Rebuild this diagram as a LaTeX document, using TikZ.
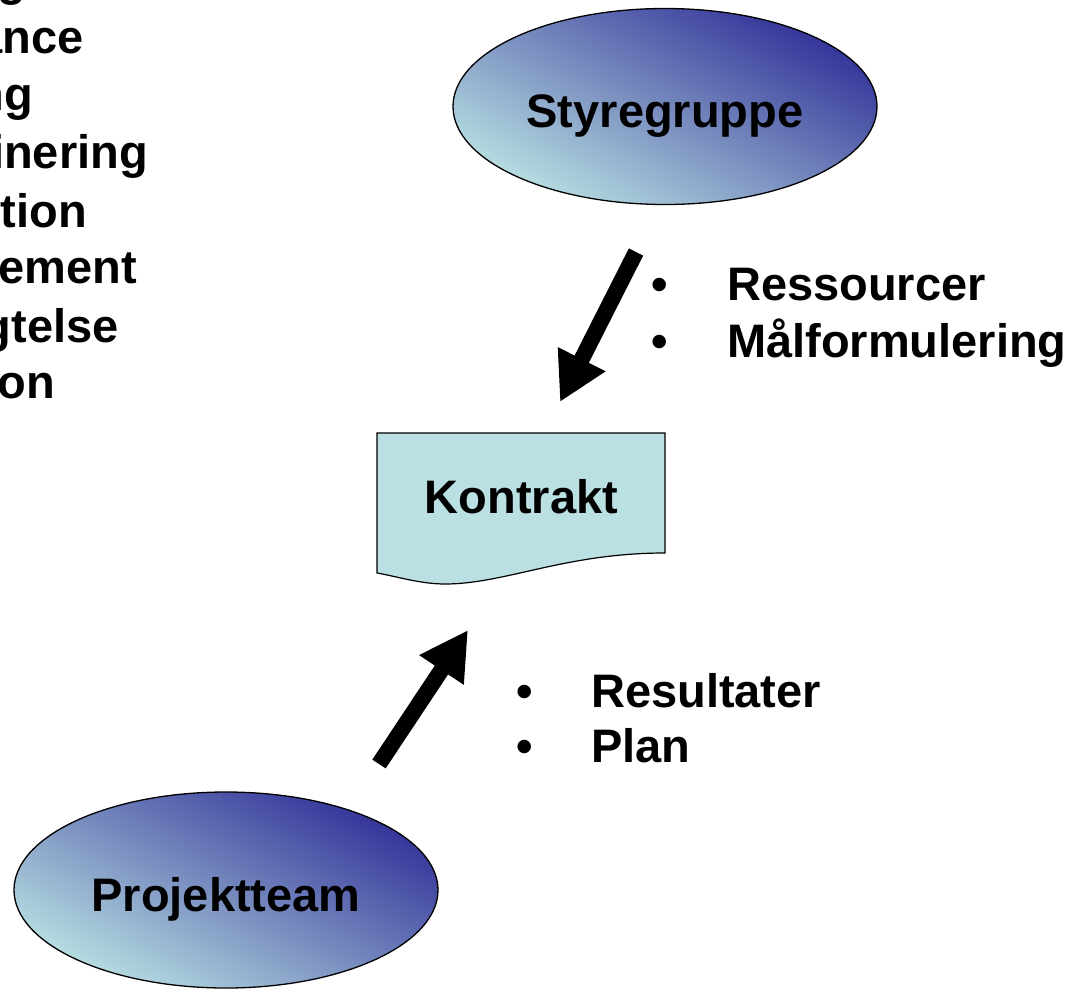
\documentclass[tikz,border=0pt]{standalone}
\usepackage{fontspec}
\setmainfont{Liberation Sans}
\usetikzlibrary{shapes.geometric,arrows.meta}
\definecolor{darkblue}{HTML}{333399}
\definecolor{lightcyan}{HTML}{B8DFE2}
\definecolor{docfill}{HTML}{BBE0E3}
\begin{document}
\begin{tikzpicture}[x=1pt,y=-1pt,
  txt/.style={inner sep=0pt, font=\fontsize{47}{56}\selectfont\bfseries},
  blob/.style={ellipse, draw=black, line width=1.3pt, inner sep=0pt,
    minimum width=424pt, minimum height=196pt,
    shading=axis, bottom color=lightcyan, top color=darkblue, shading angle=-28,
    font=\fontsize{47}{56}\selectfont\bfseries},
  bigarrow/.style={line width=16pt, -{Triangle[length=48pt,width=50pt]}}]
\useasboundingbox (0,0) rectangle (1073,990);
% left column (clipped words)
\node[txt, anchor=base east] (l0) at (26,-4.5) {g};
\node[txt, anchor=base east] (l1) at (84,53) {ance};
\node[txt, anchor=base east] (l2) at (33,110) {ng};
\node[txt, anchor=base east] (l3) at (148,168) {inering};
\node[txt, anchor=base east] (l4) at (87,227) {tion};
\node[txt, anchor=base east] (l5) at (137,283) {ement};
\node[txt, anchor=base east] (l6) at (119,342) {gtelse};
\node[txt, anchor=base east] (l7) at (55,398) {on};
% ellipses
\node[blob, text height=41pt, text depth=0pt] (styre) at (665,106.5) {Styregruppe};
\node[blob, text height=42pt, text depth=0pt] (team) at (226,890) {Projektteam};
% document shape
\draw[fill=docfill, line width=1.2pt] (377,433) -- (665,433) -- (665,553)
  .. controls (565,553) and (505,584) .. (445,584)
  .. controls (420,584) and (395,576) .. (377,573) -- cycle;
\node[txt, anchor=base] (kontrakt) at (521.5,513) {Kontrakt};
% arrows
\coordinate (a1s) at (636,252);
\coordinate (a1e) at (560,402);
\coordinate (a2s) at (379,764);
\coordinate (a2e) at (468,630);
\draw[bigarrow] (a1s) -- (a1e);
\draw[bigarrow] (a2s) -- (a2e);
% bullet lists
\node[txt, anchor=base] (b1) at (660,300) {•};
\node[txt, anchor=base west] (r1) at (727,300) {Ressourcer};
\node[txt, anchor=base] (b2) at (660,357) {•};
\node[txt, anchor=base west] (r2) at (727,357) {Målformulering};
\node[txt, anchor=base] (b3) at (525,707) {•};
\node[txt, anchor=base west] (p1) at (591,707) {Resultater};
\node[txt, anchor=base] (b4) at (525,762) {•};
\node[txt, anchor=base west] (p2) at (591,762) {Plan};
\end{tikzpicture}
\end{document}
